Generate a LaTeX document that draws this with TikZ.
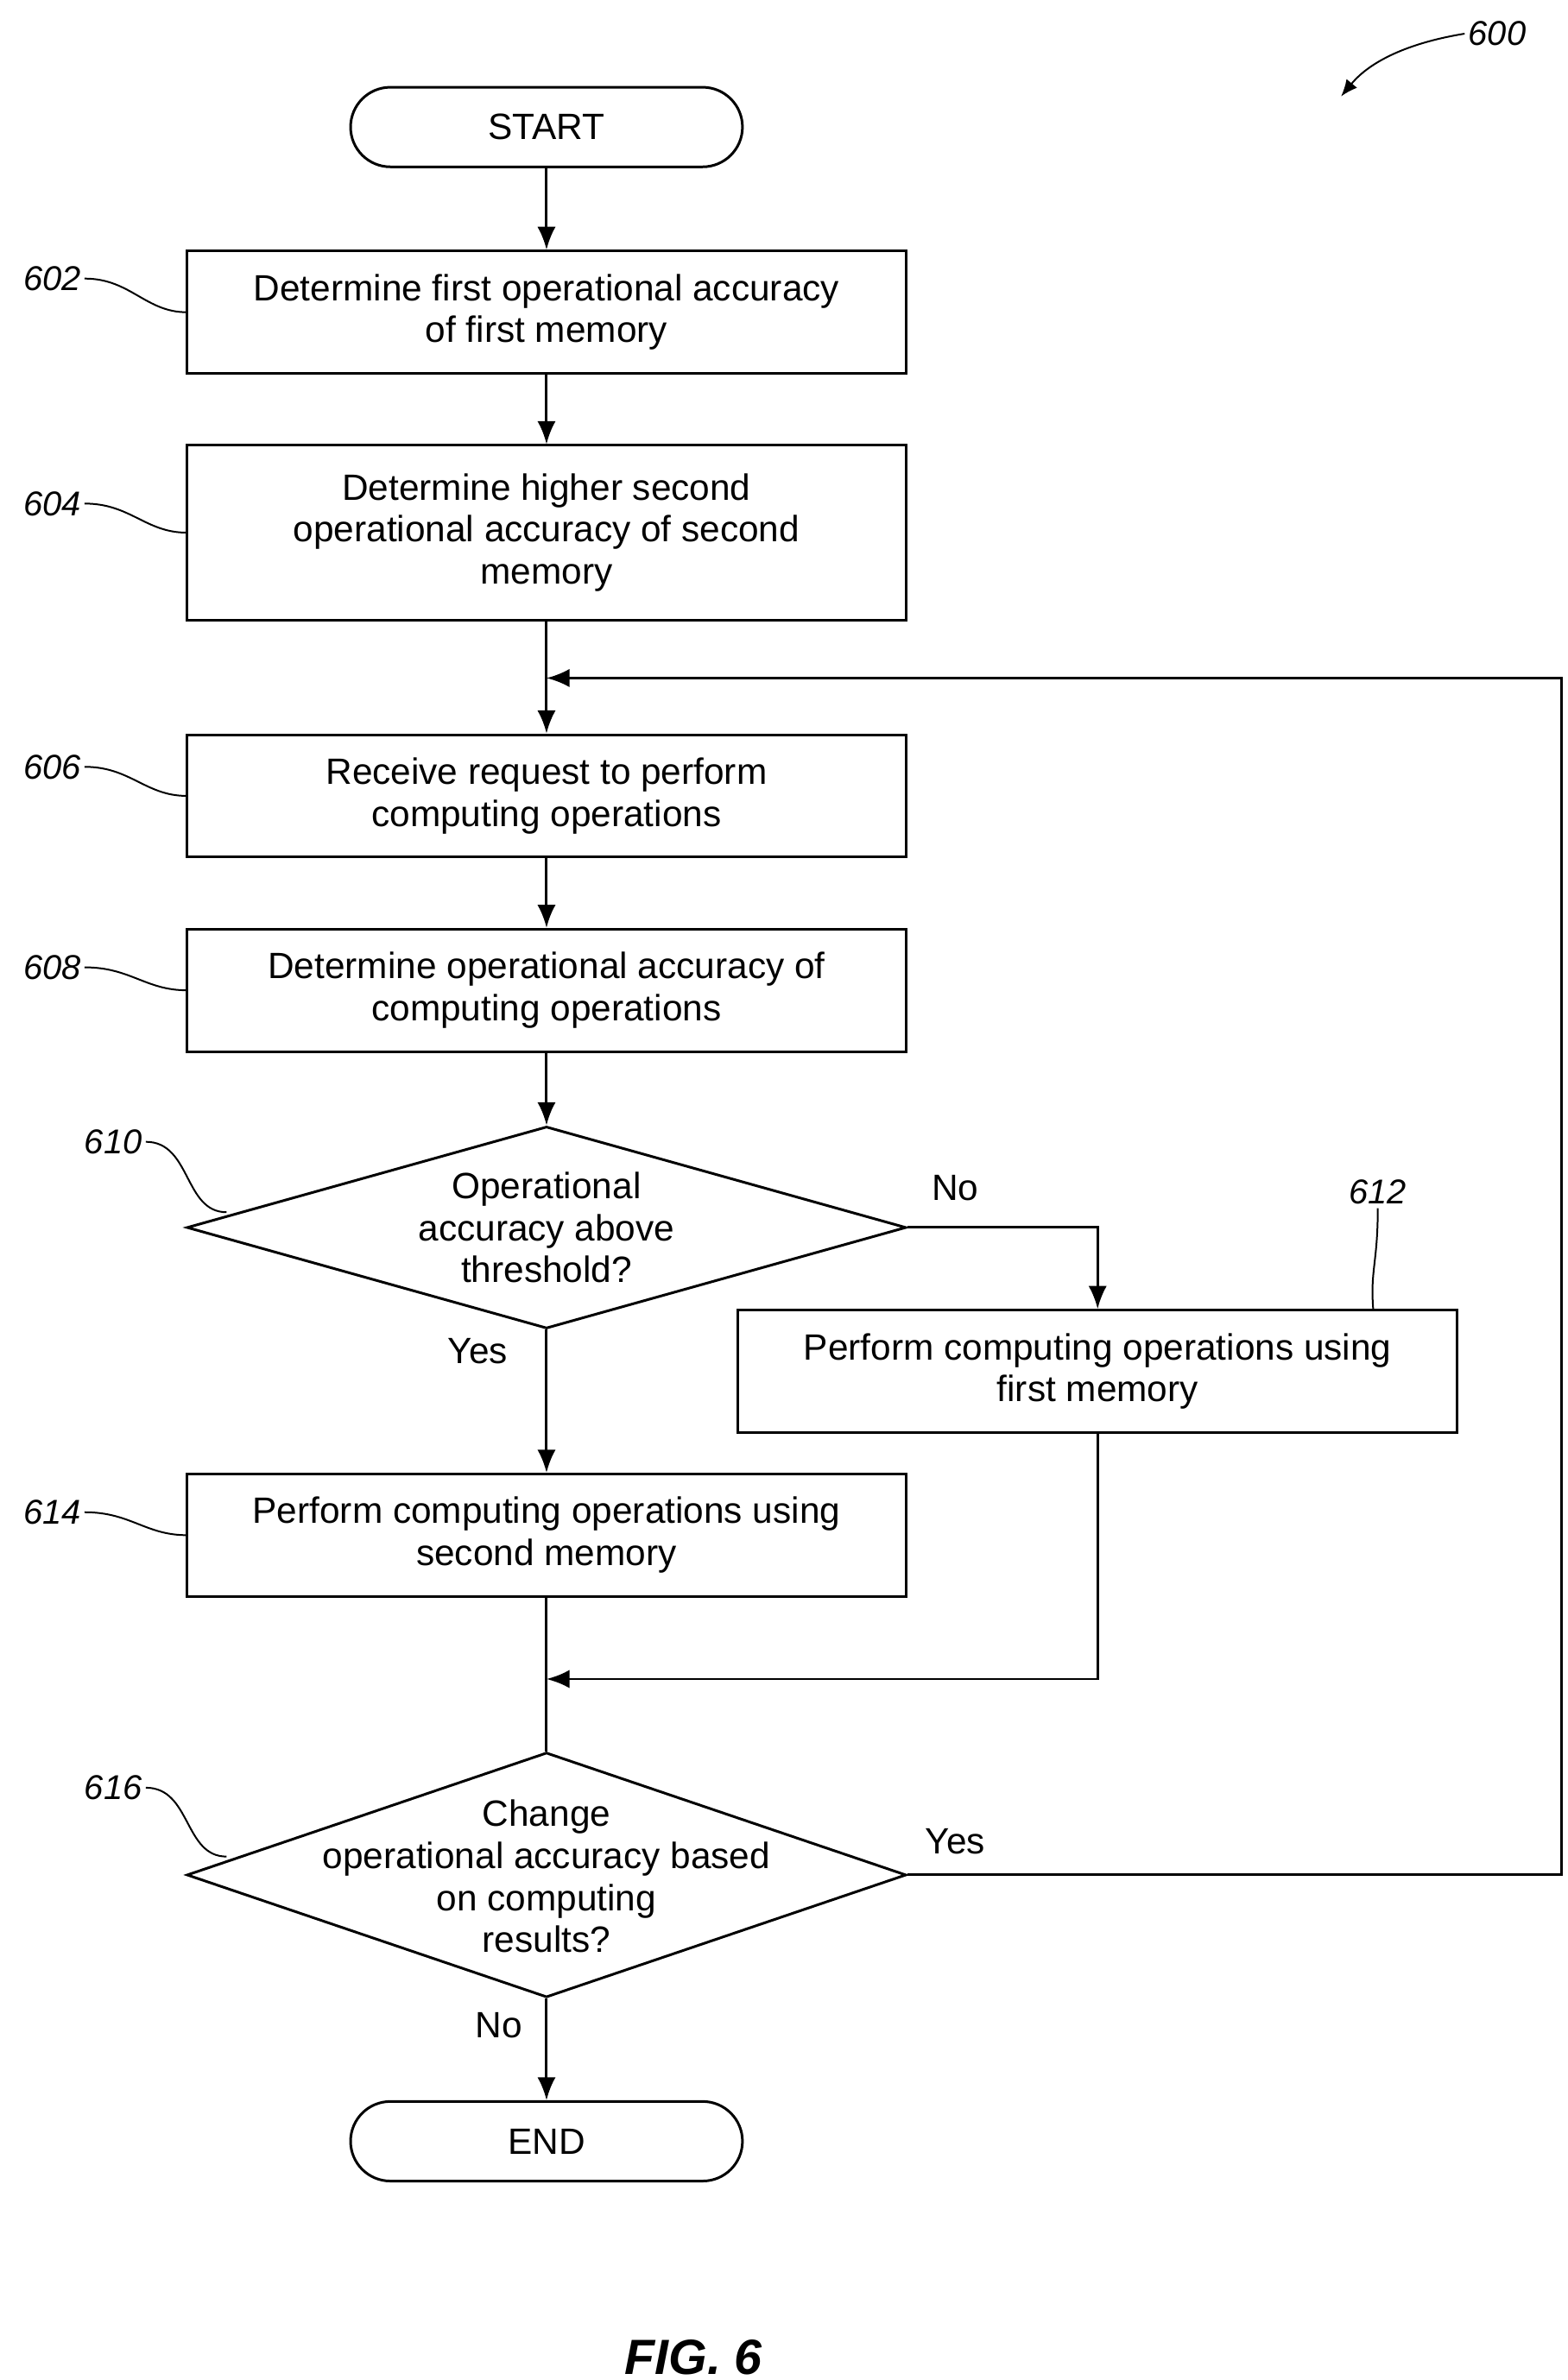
\documentclass[tikz,border=0pt]{standalone}
\usepackage{fontspec}
\setmainfont{Liberation Sans}
\usetikzlibrary{arrows.meta,shapes.geometric}
\begin{document}
\begin{tikzpicture}[x=0.05cm,y=-0.05cm,
 every node/.style={font=\fontsize{34}{39}\selectfont},
 box/.style={draw,line width=2.4pt,minimum width=23.5cm,minimum height=4cm,align=center,inner sep=0pt},
 term/.style={draw,line width=2.4pt,rounded corners=1.3cm,minimum width=12.8cm,minimum height=2.6cm},
 dia/.style={draw,line width=2.4pt,diamond,aspect=3.56,minimum width=23.5cm,align=center,inner sep=0pt},
 ref/.style={font=\fontsize{32}{36}\selectfont\itshape},
 arr/.style={line width=2.4pt,-{Latex[length=0.75cm,width=0.6cm]}},
 ln/.style={line width=2.4pt},
 sq/.style={line width=1.6pt}]
\useasboundingbox (0,0) rectangle (1024,1555);
\node[term] (start) at (357,83) {START};
\node[box] (b602) at (357,204) {Determine first operational accuracy\\of first memory};
\node[box,minimum height=5.7cm] (b604) at (357,348) {Determine higher second\\operational accuracy of second\\memory};
\node[box] (b606) at (357,520) {Receive request to perform\\computing operations};
\node[box] (b608) at (357,647) {Determine operational accuracy of\\computing operations};
\node[dia,minimum height=6.6cm] (d610) at (357,802) {};
\node (t610) at (357,802) [align=center] {Operational\\accuracy above\\threshold?};
\node[box] (b612) at (717,896) {Perform computing operations using\\first memory};
\node[box] (b614) at (357,1003) {Perform computing operations using\\second memory};
\node[dia,minimum height=8cm] (d616) at (357,1225) {};
\node (t616) at (357,1226) [align=center] {Change\\operational accuracy based\\on computing\\results?};
\node[term] (end) at (357,1399) {END};
\coordinate (m) at (357,1097);
\coordinate (c612) at (717,802);
\coordinate (l1) at (1020,1225);
\coordinate (l2) at (1020,443);
\coordinate (l3) at (357,443);
\draw[arr] (start) -- (b602);
\draw[arr] (b602) -- (b604);
\draw[arr] (b604) -- (b606);
\draw[arr] (b606) -- (b608);
\draw[arr] (b608) -- (d610);
\draw[arr] (d610.east) -- (c612) -- (b612);
\draw[arr] (d610.south) -- (b614);
\draw[ln] (b614) -- (d616);
\draw[arr] (b612) |- (m);
\draw[arr] (d616.south) -- (end);
\draw[arr] (d616.east) -- (l1) -- (l2) -- (l3);
\node at (624,776) {No};
\node at (312,883) {Yes};
\node at (624,1203) {Yes};
\node at (326,1323) {No};
% reference labels
\node[ref] (r602) at (34,182) {602};
\node[ref] (r604) at (34,329) {604};
\node[ref] (r606) at (34,501) {606};
\node[ref] (r608) at (34,632) {608};
\node[ref] (r614) at (34,988) {614};
\node[ref] (r610) at (74,746) {610};
\node[ref] (r616) at (74,1168) {616};
\node[ref] (r612) at (900,779) {612};
\node[ref] (r600) at (978,22) {600};
\foreach \r/\y in {r602/204,r604/348,r606/520,r608/647,r614/1003}
  \draw[sq] (\r.east) .. controls ++(30,0) and (95,\y) .. (122,\y);
\draw[sq] (r610.east) .. controls (125,746) and (120,792) .. (148,792);
\draw[sq] (r616.east) .. controls (125,1168) and (120,1213) .. (148,1213);
\draw[sq] (r612.south) .. controls (900,825) and (895,830) .. (b612.north -| 897,0);
\draw[sq,-{Latex[length=0.55cm,width=0.45cm]}] (r600.west) .. controls (920,28) and (895,40) .. (876,63);
\node[font=\fontsize{46}{52}\selectfont\bfseries\itshape] (fig) at (453,1540) {FIG. 6};
\end{tikzpicture}
\end{document}
